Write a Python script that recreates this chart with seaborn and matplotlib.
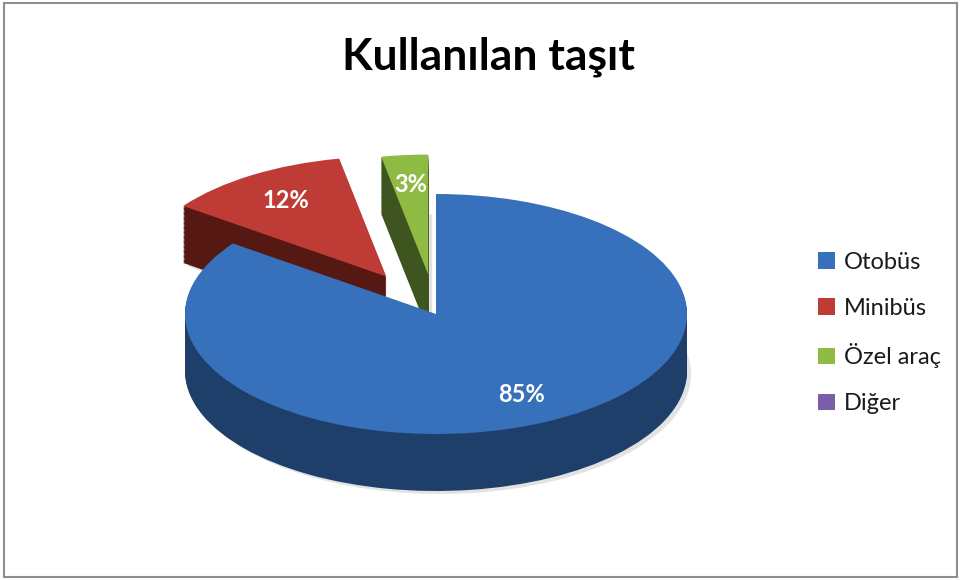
import matplotlib.pyplot as plt
import matplotlib.patches as mpatches
import seaborn as sns

# ----------------------------------------------------------
# Data
# ----------------------------------------------------------
categories = ["Otobüs", "Minibüs", "Özel araç", "Diğer"]
shares = [85, 12, 3, 0]
explode = [0.0, 0.37, 0.33, 0.0]     # fraction of the radius
top_colors = ["#3770BB", "#BE3B36", "#8FBB45", "#7B5EA7"]
side_colors = ["#1F3F6B", "#561813", "#3F5520", "#3E2E57"]
title = "Kullanılan taşıt"

sns.set_theme(style="white")
plt.rcParams["font.family"] = ["Lato", "DejaVu Sans"]

W, H = 963, 580
fig = plt.figure(figsize=(W / 100, H / 100), dpi=100)
ax = fig.add_axes([0, 0, 1, 1])

# ----------------------------------------------------------
# Fake 3D pie: squashed y axis + stacked layers for the sides
# ----------------------------------------------------------
cx, cy = 436, 314      # centre of the top face (pixels from top-left)
rx, ry = 251, 120      # radii of the top ellipse
depth = 57             # thickness of the pie in pixels
k = ry / rx            # vertical squash factor


def ydata(py):
    return (H - py) / k


expl = [e * rx for e in explode]   # pie() offsets in data units
common = dict(startangle=90, counterclock=False, radius=rx, frame=True,
              explode=expl)

# soft shadow
ax.pie(shares, colors=["#d0d0d0"] * 4,
       center=(cx + 4, ydata(cy + depth + 3)),
       wedgeprops=dict(linewidth=0, alpha=0.6), **common)

# side layers, bottom to top
n_layers = 45
for i in range(n_layers, 0, -1):
    off = depth * i / n_layers
    ax.pie(shares, colors=side_colors,
           center=(cx, ydata(cy + off)),
           wedgeprops=dict(linewidth=0), **common)

# top faces with labels
wedges, _, autotexts = ax.pie(
    shares, colors=top_colors,
    center=(cx, ydata(cy)),
    autopct=lambda p: f"{p:.0f}%" if p > 0.5 else "",
    pctdistance=0.75,
    textprops=dict(color="white", fontsize=17, fontweight="bold"),
    wedgeprops=dict(linewidth=0), **common)

ax.set_aspect("auto")
ax.set_xlim(0, W)
ax.set_ylim(0, H / k)
ax.axis("off")

fig.text(488 / W, 1 - 57 / H, title, ha="center", va="center",
         fontsize=32, fontweight="bold", color="black")

fig.legend(wedges, categories, loc="center left",
           bbox_to_anchor=(797 / W, 1 - 333 / H), frameon=False,
           fontsize=17, handlelength=0.7, handleheight=0.7,
           handletextpad=0.4, labelspacing=1.05, labelcolor="#1a1a1a")

# chart border
fig.patches.append(mpatches.Rectangle((4 / W, 3 / H), 953 / W, 574 / H,
                                      transform=fig.transFigure, fill=False,
                                      edgecolor="#8e8e8e", linewidth=1.5))

fig.savefig("out.png", dpi=100)
